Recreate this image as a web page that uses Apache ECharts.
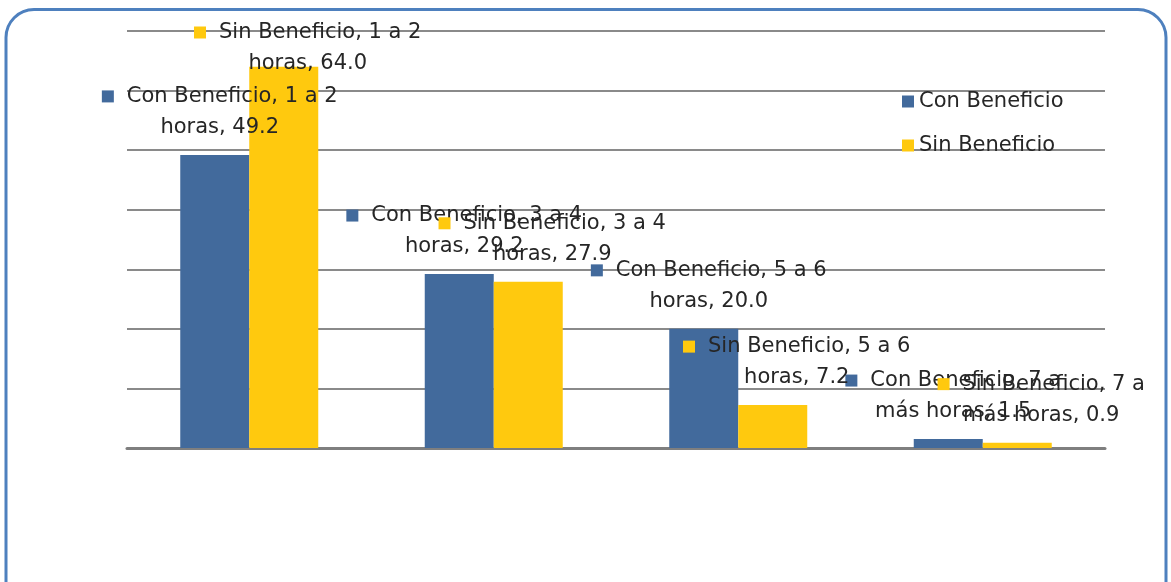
<!DOCTYPE html>
<html>
<head>
<meta charset="utf-8">
<script src="https://cdn.jsdelivr.net/npm/echarts@6/dist/echarts.min.js"></script>
<style>
  html, body { margin: 0; padding: 0; background: #fff; }
  #chart { width: 1171px; height: 582px; }
</style>
</head>
<body>
<div id="chart"></div>
<script>
const categories = ["1 a 2 horas", "3 a 4 horas", "5 a 6 horas", "7 a más horas"];
const seriesNames = ["Con Beneficio", "Sin Beneficio"];
const conBeneficio = [49.2, 29.2, 20.0, 1.5];
const sinBeneficio = [64.0, 27.9, 7.2, 0.9];

const BLUE = "#426A9C";
const YELLOW = "#FFC90E";
// horizontal shift of the data labels per series
const labelShift = [5, 24];

// greedy word wrap, like the data labels in the original
function wrap(text, maxChars) {
  const words = text.split(" ");
  const lines = [];
  let cur = "";
  words.forEach((w) => {
    const next = cur ? cur + " " + w : w;
    if (next.length > maxChars && cur) {
      lines.push(cur);
      cur = w;
    } else {
      cur = next;
    }
  });
  if (cur) lines.push(cur);
  return lines;
}

function makeLabel(color) {
  return {
    show: true,
    position: "top",
    distance: 12,
    align: "center",
    fontFamily: "DejaVu Sans",
    fontSize: 21,
    lineHeight: 31,
    color: "#262626",
    formatter: (p) => {
      const full = p.seriesName + ", " + p.name + ", " + p.value.toFixed(1);
      return "{m|}{g|}" + wrap(full, 20).join("\n");
    },
    rich: {
      m: { width: 12, height: 12, backgroundColor: color },
      g: { width: 13 },
    },
  };
}

const chart = echarts.init(document.getElementById("chart"));

chart.setOption({
  animation: false,
  textStyle: { fontFamily: "DejaVu Sans" },
  grid: { left: 127, right: 66, top: 31, bottom: 134 },
  legend: {
    orient: "vertical",
    left: 897,
    top: 86,
    icon: "rect",
    itemWidth: 12,
    itemHeight: 12,
    itemGap: 23,
    textStyle: { fontSize: 21, color: "#262626", fontFamily: "DejaVu Sans" },
    data: seriesNames,
  },
  xAxis: {
    type: "category",
    data: categories,
    axisTick: { show: false },
    axisLabel: { show: false },
    axisLine: { lineStyle: { color: "#7f7f7f", width: 3 } },
  },
  yAxis: {
    type: "value",
    min: 0,
    max: 70,
    interval: 10,
    axisLabel: { show: false },
    axisLine: { show: false },
    axisTick: { show: false },
    splitLine: { lineStyle: { color: "#8a8a8a", width: 2 } },
  },
  // keep labels inside the frame, like Excel does
  labelLayout: (p) => {
    const minTop = 17;
    const out = { dx: labelShift[p.seriesIndex] };
    if (p.labelRect.y < minTop) out.dy = minTop - p.labelRect.y;
    return out;
  },
  series: [
    {
      name: seriesNames[0],
      type: "bar",
      barWidth: 69,
      barGap: "0%",
      itemStyle: { color: BLUE },
      label: makeLabel(BLUE),
      data: conBeneficio,
    },
    {
      name: seriesNames[1],
      type: "bar",
      barWidth: 69,
      barGap: "0%",
      itemStyle: { color: YELLOW },
      label: makeLabel(YELLOW),
      data: sinBeneficio,
    },
  ],
  graphic: [
    {
      type: "rect",
      shape: { x: 6, y: 9.5, width: 1160, height: 640, r: 28 },
      style: { fill: "none", stroke: "#4E80BE", lineWidth: 3 },
      z: 100,
      silent: true,
    },
  ],
});
</script>
</body>
</html>
